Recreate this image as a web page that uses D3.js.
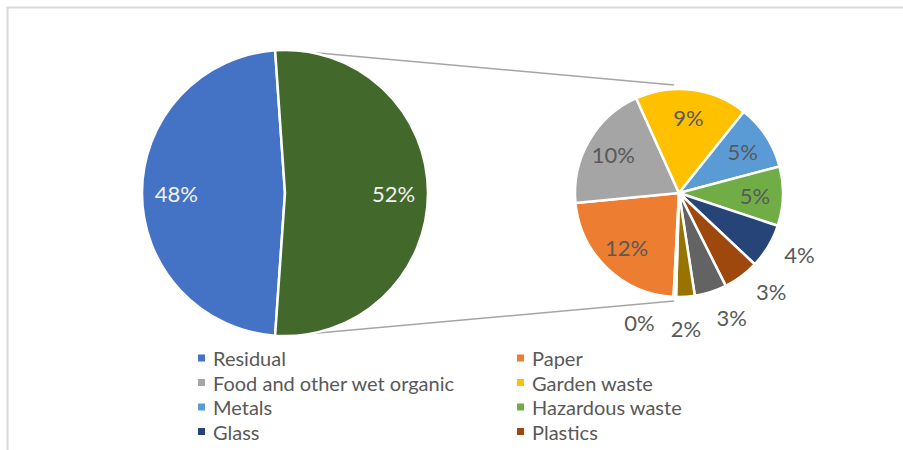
<!DOCTYPE html>
<html lang="en">
<head>
<meta charset="utf-8">
<title>Waste composition - pie of pie</title>
<script src="https://cdn.jsdelivr.net/npm/d3@7"></script>
<style>
  body { margin: 0; background: #fff; }
  text { font-family: Lato, "Open Sans", sans-serif; }
</style>
</head>
<body>
<div id="chart"></div>
<script>
// main pie: residual vs. the split-out group
var mainNames = ["Residual", "Other"];
var mainValues = [47.8, 52.2];

// secondary pie (the split-out group), in Excel order
var subNames = ["Paper", "Food and other wet organic", "Garden waste", "Metals",
                "Hazardous waste", "Glass", "Plastics", "Other 1", "Other 2", "Other 3"];
var subValues = [11.8, 10.3, 9.1, 5.3, 4.8, 3.6, 2.9, 2.6, 1.5, 0.2];

var mainColors = ["#4472C4", "#43682B"];
var subColors = ["#ED7D31", "#A5A5A5", "#FFC000", "#5B9BD5", "#70AD47",
                 "#264478", "#9E480E", "#636363", "#997300", "#255E91"];

var width = 903, height = 450;
var total = d3.sum(mainValues);

var main = {cx: 285, cy: 193, r: 143};
var sub = {cx: 679, cy: 193, r: 104};
var deg = Math.PI / 180;

var svg = d3.select("#chart").append("svg")
    .attr("width", width)
    .attr("height", height);

// chart area border (runs off the right/bottom of the picture)
svg.append("rect")
    .attr("x", 7.5).attr("y", 7.5)
    .attr("width", width + 50).attr("height", height + 50)
    .attr("fill", "none")
    .attr("stroke", "#d9d9d9")
    .attr("stroke-width", 2);

// connector lines, drawn behind the pies
var connect = [[main.cy - main.r, sub.cy - sub.r - 4], [main.cy + main.r, sub.cy + sub.r + 4]];
svg.append("g").selectAll("line")
  .data(connect)
  .enter().append("line")
    .attr("x1", main.cx)
    .attr("y1", function(d) { return d[0]; })
    .attr("x2", sub.cx - 5)
    .attr("y2", function(d) { return d[1]; })
    .attr("stroke", "#a5a5a5")
    .attr("stroke-width", 1.5);

// main pie: the group slice is centred on 3 o'clock
var otherShare = mainValues[1] / total;
var mainStart = Math.PI / 2 + otherShare * Math.PI;
var mainPie = d3.pie().sort(null)
    .startAngle(mainStart).endAngle(mainStart + 2 * Math.PI);
var mainArc = d3.arc().innerRadius(0).outerRadius(main.r);

var gMain = svg.append("g")
    .attr("transform", "translate(" + main.cx + "," + main.cy + ")");

var mainArcs = mainPie(mainValues);
gMain.selectAll("path")
  .data(mainArcs)
  .enter().append("path")
    .attr("d", mainArc)
    .attr("fill", function(d, i) { return mainColors[i]; })
    .attr("stroke", "#fff")
    .attr("stroke-width", 2.5)
    .attr("stroke-linejoin", "round");

gMain.selectAll("text")
  .data(mainArcs)
  .enter().append("text")
    .attr("x", function(d) { return Math.sin((d.startAngle + d.endAngle) / 2) * main.r * 0.76; })
    .attr("y", function(d) { return -Math.cos((d.startAngle + d.endAngle) / 2) * main.r * 0.76; })
    .attr("text-anchor", "middle")
    .attr("dominant-baseline", "central")
    .attr("fill", "#f2f2f2")
    .style("font-size", "22px")
    .text(function(d) { return Math.round(d.value / total * 100) + "%"; });

// secondary pie
var subStart = 183 * deg;
var subPie = d3.pie().sort(null)
    .startAngle(subStart).endAngle(subStart + 2 * Math.PI);
var subArc = d3.arc().innerRadius(0).outerRadius(sub.r);

var gSub = svg.append("g")
    .attr("transform", "translate(" + sub.cx + "," + sub.cy + ")");

var subArcs = subPie(subValues);
gSub.selectAll("path")
  .data(subArcs)
  .enter().append("path")
    .attr("d", subArc)
    .attr("fill", function(d, i) { return subColors[i]; })
    .attr("stroke", "#fff")
    .attr("stroke-width", 2.5)
    .attr("stroke-linejoin", "round");

// label placement: big slices inside, small ones outside, spread apart
var labels = subArcs.map(function(d) {
  var mid = (d.startAngle + d.endAngle) / 2;
  var inside = (d.endAngle - d.startAngle) > 30 * deg;
  return {mid: mid, angle: mid, inside: inside, value: d.value};
});
var outside = labels.filter(function(l) { return !l.inside; });
var gap = 20 * deg;
for (var it = 0; it < 200; it++) {
  for (var i = 0; i < outside.length - 1; i++) {
    var diff = outside[i + 1].angle - outside[i].angle;
    if (diff < gap) {
      outside[i].angle -= (gap - diff) / 2;
      outside[i + 1].angle += (gap - diff) / 2;
    }
  }
}

gSub.selectAll("text")
  .data(labels)
  .enter().append("text")
    .attr("x", function(d) { return Math.sin(d.angle) * sub.r * (d.inside ? 0.73 : 1.3); })
    .attr("y", function(d) { return -Math.cos(d.angle) * sub.r * (d.inside ? 0.73 : 1.3); })
    .attr("text-anchor", "middle")
    .attr("dominant-baseline", "central")
    .attr("fill", "#595959")
    .style("font-size", "22px")
    .text(function(d) { return Math.round(d.value / total * 100) + "%"; });

// legend: two columns, row-major; rows past the bottom edge are cut off
var legendNames = [mainNames[0]].concat(subNames);
var legendColors = [mainColors[0]].concat(subColors);
var rowY = function(i) { return 358 + Math.floor(i / 2) * 24.5; };
var shown = legendNames.filter(function(d, i) { return rowY(i) + 10 < height; });

var legend = svg.append("g");
var item = legend.selectAll("g")
  .data(shown)
  .enter().append("g")
    .attr("transform", function(d, i) {
      return "translate(" + (i % 2 === 0 ? 198 : 517) + "," + rowY(i) + ")";
    });

item.append("rect")
    .attr("x", 0).attr("y", -3.5)
    .attr("width", 7).attr("height", 7)
    .attr("fill", function(d, i) { return legendColors[i]; });

item.append("text")
    .attr("x", 15)
    .attr("dominant-baseline", "central")
    .attr("fill", "#595959")
    .style("font-size", "20px")
    .text(function(d) { return d; });
</script>
</body>
</html>
